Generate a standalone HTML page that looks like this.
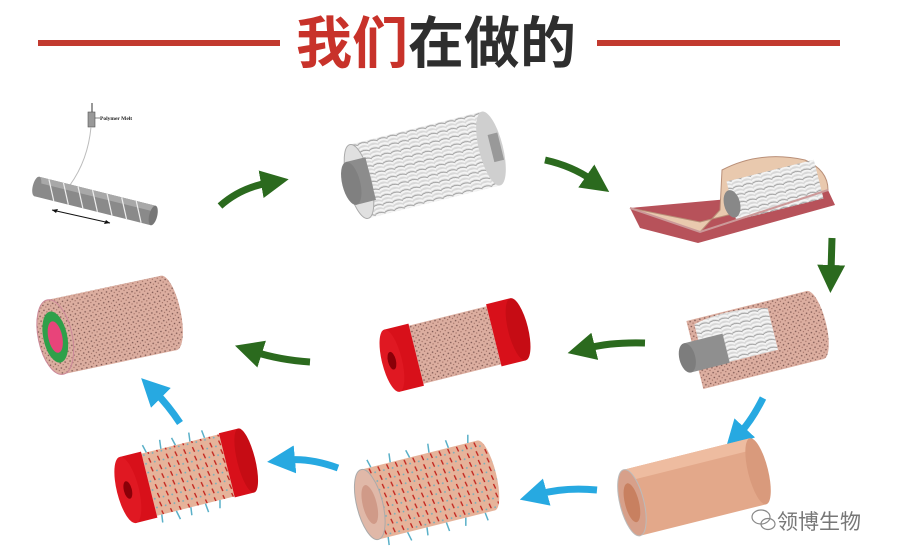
<!DOCTYPE html>
<html><head><meta charset="utf-8"><style>
html,body{margin:0;padding:0;background:#fff;}
svg{display:block;}
</style></head><body>
<svg width="897" height="559" viewBox="0 0 897 559" xmlns="http://www.w3.org/2000/svg">
<defs>
<pattern id="dots" width="5" height="5" patternUnits="userSpaceOnUse">
<rect width="5" height="5" fill="#dcaea0"/><circle cx="1.5" cy="1.5" r="0.8" fill="#7a5550"/><circle cx="4" cy="3.6" r="0.6" fill="#9a6a60"/>
</pattern>
<pattern id="wrap" width="10" height="8" patternUnits="userSpaceOnUse">
<rect width="10" height="8" fill="#d8d8d8"/><path d="M0 2 Q5 -1 10 3 M0 6 Q5 3 10 7" stroke="#f4f4f4" stroke-width="2" fill="none"/><path d="M0 4 Q5 2 10 5" stroke="#888" stroke-width="0.6" fill="none"/>
</pattern>
<pattern id="spk" width="9" height="9" patternUnits="userSpaceOnUse">
<rect width="9" height="9" fill="#e6b39a"/><line x1="2" y1="1" x2="3" y2="6" stroke="#c0201a" stroke-width="1.3"/><circle cx="7" cy="6" r="0.9" fill="#6ab0c0"/>
</pattern>
<marker id="hg" markerWidth="4" markerHeight="4" refX="1" refY="2" orient="auto" markerUnits="strokeWidth"><path d="M0 0 L4 2 L0 4 Z" fill="#2b6a1e"/></marker>
<marker id="hb" markerWidth="4" markerHeight="4" refX="1" refY="2" orient="auto" markerUnits="strokeWidth"><path d="M0 0 L4 2 L0 4 Z" fill="#27a9e1"/></marker>
</defs>

<rect x="38" y="40" width="242" height="6" fill="#c23a2f"/>
<rect x="597" y="40" width="243" height="6" fill="#c23a2f"/>
<text x="296" y="63" font-family="'Liberation Sans','Noto Sans CJK SC',sans-serif" font-size="56" font-weight="bold" fill="#c8322a">我们<tspan fill="#2e2e2e">在做的</tspan></text>

<line x1="92" y1="103" x2="92" y2="112" stroke="#333" stroke-width="1"/>
<rect x="88" y="112" width="7" height="15" fill="#999" stroke="#555" stroke-width="0.6"/>
<line x1="95" y1="118" x2="100" y2="118" stroke="#333" stroke-width="0.6"/>
<text x="100" y="120" font-family="'Liberation Serif',serif" font-size="5.5" font-weight="bold" fill="#222">Polymer Melt</text>
<path d="M91 127 Q88 160 70 185" stroke="#bbb" stroke-width="1" fill="none"/>
<g transform="translate(95,201) rotate(14)">
<rect x="-60" y="-10" width="120" height="20" fill="#8a8a8a"/>
<rect x="-60" y="-10" width="120" height="6" fill="#a8a8a8"/>
<ellipse cx="60" cy="0" rx="4" ry="10" fill="#777"/>
<ellipse cx="-60" cy="0" rx="4" ry="10" fill="#8a8a8a"/>
<path d="M-50 -10 L-40 10 M-35 -10 L-25 10 M-20 -10 L-10 10 M-5 -10 L5 10 M10 -10 L20 10 M25 -10 L35 10 M40 -10 L50 10" stroke="#eee" stroke-width="1.2"/>
</g>
<line x1="52" y1="210" x2="110" y2="223" stroke="#111" stroke-width="1"/>
<path d="M52 210 l6 -1 l-2 4 z M110 223 l-6 1 l2 -4 z" fill="#111"/>

<path d="M220 206 Q240 188 268 183" stroke="#2b6a1e" stroke-width="7" fill="none" marker-end="url(#hg)"/>

<g transform="translate(425,165) rotate(-14)">
<rect x="-68" y="-38" width="136" height="76" fill="url(#wrap)"/>
<ellipse cx="68" cy="0" rx="12" ry="38" fill="#cfcfcf"/>
<rect x="68" y="-14" width="10" height="28" fill="#999"/>
<ellipse cx="-68" cy="0" rx="12" ry="38" fill="#e0e0e0" stroke="#aaa"/>
<rect x="-76" y="-22" width="20" height="44" fill="#8c8c8c"/>
<ellipse cx="-76" cy="0" rx="9" ry="22" fill="#808080"/>
</g>

<path d="M545 160 Q572 166 592 180" stroke="#2b6a1e" stroke-width="7" fill="none" marker-end="url(#hg)"/>

<path d="M630 208 L640 228 L698 243 L835 205 L828 190 Z" fill="#b7525a"/>
<path d="M630 208 L700 232 L720 210 L722 170 Q760 150 805 160 Q828 170 828 190 L700 222 Z" fill="#e9c9ae" stroke="#b98f78" stroke-width="1"/>
<g transform="translate(775,190) rotate(-14)">
<rect x="-45" y="-20" width="90" height="40" fill="url(#wrap)"/>
<ellipse cx="-45" cy="3" rx="8" ry="14" fill="#888"/>
</g>
<path d="M630 208 L700 232 L828 190" stroke="#c99" stroke-width="2" fill="none"/>

<path d="M832 238 L831 272" stroke="#2b6a1e" stroke-width="7" fill="none" marker-end="url(#hg)"/>

<g transform="translate(755,340) rotate(-14)">
<rect x="-62" y="-35" width="124" height="70" fill="url(#dots)"/>
<ellipse cx="62" cy="0" rx="11" ry="35" fill="url(#dots)"/>
<path d="M-55 -30 Q-20 -38 20 -28 L20 15 L-55 15 Z" fill="url(#wrap)"/>
<rect x="-70" y="-14" width="40" height="30" fill="#8f8f8f"/>
<ellipse cx="-70" cy="1" rx="8" ry="15" fill="#7d7d7d"/>
</g>

<path d="M645 343 Q612 342 588 348" stroke="#2b6a1e" stroke-width="7" fill="none" marker-end="url(#hg)"/>

<g transform="translate(455,345) rotate(-14)">
<rect x="-40" y="-30" width="80" height="60" fill="url(#dots)"/>
<rect x="40" y="-32" width="25" height="64" fill="#d8101a"/>
<ellipse cx="65" cy="0" rx="10" ry="32" fill="#c60c14"/>
<rect x="-65" y="-32" width="25" height="64" fill="#d8101a"/>
<ellipse cx="-65" cy="0" rx="10" ry="32" fill="#e01822"/>
<ellipse cx="-65" cy="0" rx="4" ry="9" fill="#8a0008"/>
</g>

<path d="M310 362 Q280 360 255 352" stroke="#2b6a1e" stroke-width="7" fill="none" marker-end="url(#hg)"/>

<g transform="translate(112,325) rotate(-12)">
<rect x="-58" y="-38" width="116" height="76" fill="url(#dots)"/>
<ellipse cx="58" cy="0" rx="12" ry="38" fill="url(#dots)"/>
<ellipse cx="-58" cy="0" rx="17" ry="38" fill="url(#dots)" stroke="#c89"/>
<ellipse cx="-58" cy="0" rx="12" ry="26" fill="#2ea04a"/>
<ellipse cx="-58" cy="0" rx="7" ry="16" fill="#e8447a"/>
</g>

<path d="M763 398 Q752 420 740 433" stroke="#27a9e1" stroke-width="7" fill="none" marker-end="url(#hb)"/>

<g transform="translate(695,487) rotate(-14)">
<rect x="-65" y="-34" width="130" height="68" fill="#e3a88a"/>
<rect x="-65" y="-34" width="130" height="12" fill="#eebca0"/>
<ellipse cx="65" cy="0" rx="10" ry="34" fill="#d99a7c"/>
<ellipse cx="-65" cy="0" rx="12" ry="34" fill="#d7a08a" stroke="#bbb"/>
<ellipse cx="-65" cy="0" rx="7" ry="20" fill="#c88060"/>
</g>

<path d="M597 490 Q565 487 540 494" stroke="#27a9e1" stroke-width="7" fill="none" marker-end="url(#hb)"/>

<g transform="translate(428,490) rotate(-14)">
<rect x="-60" y="-36" width="120" height="72" fill="url(#spk)"/>
<ellipse cx="60" cy="0" rx="10" ry="36" fill="url(#spk)"/>
<ellipse cx="-60" cy="0" rx="13" ry="36" fill="#e0b8a8" stroke="#aaa"/>
<ellipse cx="-60" cy="0" rx="7" ry="20" fill="#d09a88"/>
<path d="M-50 -36 l-2 -8 M-30 -36 l1 -9 M-10 -36 l-2 -8 M10 -36 l1 -9 M30 -36 l-1 -8 M50 -36 l2 -8 M-50 36 l-1 8 M-30 36 l2 9 M-10 36 l-1 8 M10 36 l1 9 M30 36 l-2 8 M50 36 l1 8" stroke="#5ab0c8" stroke-width="1.5"/>
</g>

<path d="M338 468 Q310 458 288 460" stroke="#27a9e1" stroke-width="7" fill="none" marker-end="url(#hb)"/>

<g transform="translate(188,475) rotate(-14)">
<rect x="-40" y="-32" width="80" height="64" fill="url(#spk)"/>
<rect x="40" y="-33" width="20" height="66" fill="#d8101a"/>
<ellipse cx="60" cy="0" rx="9" ry="33" fill="#c60c14"/>
<rect x="-62" y="-34" width="22" height="68" fill="#d8101a"/>
<ellipse cx="-62" cy="0" rx="11" ry="34" fill="#e01822"/>
<ellipse cx="-62" cy="0" rx="4" ry="9" fill="#8a0008"/>
<path d="M-35 -32 l-2 -8 M-20 -32 l1 -9 M-5 -32 l-2 -8 M10 -32 l1 -9 M25 -32 l-1 -8 M-35 32 l-1 8 M-20 32 l2 9 M-5 32 l-1 8 M10 32 l1 9 M25 32 l-2 8" stroke="#5ab0c8" stroke-width="1.5"/>
</g>

<path d="M180 423 Q168 405 156 393" stroke="#27a9e1" stroke-width="7" fill="none" marker-end="url(#hb)"/>

<g fill="none" stroke="#888" stroke-width="1.2">
<ellipse cx="761" cy="517" rx="9" ry="7"/><ellipse cx="768" cy="524" rx="7" ry="5.5"/>
</g>
<text x="777" y="529" font-family="'Liberation Sans','Noto Sans CJK SC',sans-serif" font-size="21" fill="#777">领博生物</text>
</svg>
</body></html>
